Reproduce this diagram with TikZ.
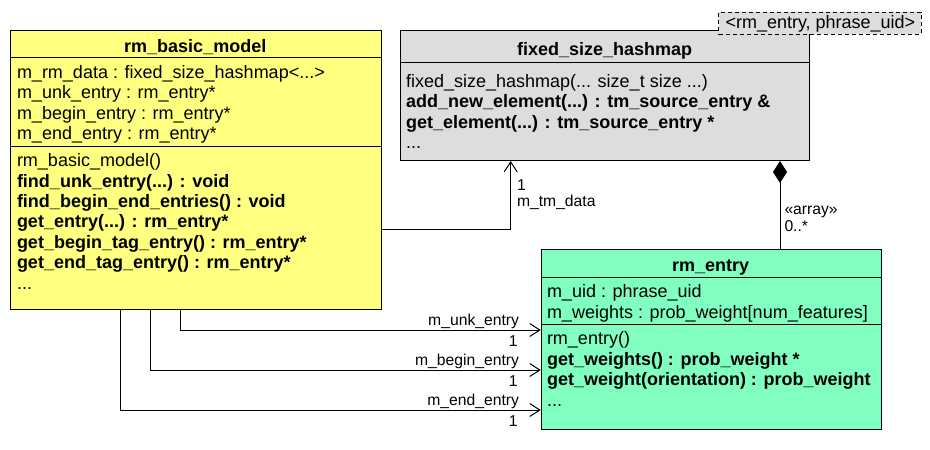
\documentclass[tikz,border=0pt]{standalone}
\usepackage{fontspec}
\setmainfont{Liberation Sans}
\usetikzlibrary{arrows.meta}
\definecolor{umlyellow}{HTML}{FFFF80}
\definecolor{umlgreen}{HTML}{80FFC0}
\definecolor{umlgray}{HTML}{DDDDDD}
\begin{document}
\begin{tikzpicture}[x=1pt,y=-1pt,line width=1pt,
  box/.style={draw=black, line width=1pt, anchor=north west, inner sep=0pt},
  t/.style={anchor=base west, inner sep=0pt, font=\fontsize{18}{21}\selectfont},
  tb/.style={anchor=base west, inner sep=0pt, font=\fontsize{18}{21}\selectfont\bfseries},
  hd/.style={anchor=base, inner sep=0pt, font=\fontsize{18}{21}\selectfont\bfseries},
  lbl/.style={inner sep=0pt, font=\fontsize{15.7}{18}\selectfont},
  assoc/.style={draw, -{Straight Barb[length=10pt,width=13pt]}},
  comp/.style={draw, {Diamond[length=22pt,width=14pt]}-},
]
\useasboundingbox (0,0) rectangle (930,450);

% ---------- rm_basic_model ----------
\node[box, fill=umlyellow, minimum width=370.5pt, minimum height=279.2pt] (basic) at (10,29.5) {};
\draw ([yshift=-27.8pt]basic.north west) -- ([yshift=-27.8pt]basic.north east);
\draw ([yshift=-117.2pt]basic.north west) -- ([yshift=-117.2pt]basic.north east);
\node[hd] (bh) at (195.25,52.3) {rm\_basic\_model};
\node[t] (ba1) at (16.5,78.3) {m\_rm\_data : fixed\_size\_hashmap<...>};
\node[t] (ba2) at (16.5,98.8) {m\_unk\_entry : rm\_entry*};
\node[t] (ba3) at (16.5,119.3) {m\_begin\_entry : rm\_entry*};
\node[t] (ba4) at (16.5,139.8) {m\_end\_entry : rm\_entry*};
\node[t]  (bm1) at (16.5,166.7) {rm\_basic\_model()};
\node[tb] (bm2) at (16.5,187.1) {find\_unk\_entry(...) : void};
\node[tb] (bm3) at (16.5,207.5) {find\_begin\_end\_entries() : void};
\node[tb] (bm4) at (16.5,227.9) {get\_entry(...) : rm\_entry*};
\node[tb] (bm5) at (16.5,248.3) {get\_begin\_tag\_entry() : rm\_entry*};
\node[tb] (bm6) at (16.5,268.7) {get\_end\_tag\_entry() : rm\_entry*};
\node[t]  (bm7) at (16.5,289.1) {...};

% ---------- fixed_size_hashmap ----------
\node[box, fill=umlgray, minimum width=409.3pt, minimum height=130pt] (hash) at (400,30) {};
\draw ([yshift=-32.3pt]hash.north west) -- ([yshift=-32.3pt]hash.north east);
\node[hd] (hh) at (604.7,55.7) {fixed\_size\_hashmap};
\node[t]  (hm1) at (405.5,87.7) {fixed\_size\_hashmap(... size\_t size ...)};
\node[tb] (hm2) at (405.5,107.9) {add\_new\_element(...) : tm\_source\_entry \&};
\node[tb] (hm3) at (405.5,128.1) {get\_element(...) : tm\_source\_entry *};
\node[t]  (hm4) at (405.5,148.3) {...};

% template parameter box
\node[box, fill=umlgray, dash pattern=on 4pt off 3pt, minimum width=202.4pt, minimum height=21.8pt] (tpl) at (718.3,11.7) {};
\node[t] (tpt) at (725,28.3) {<rm\_entry, phrase\_uid>};

% ---------- rm_entry ----------
\node[box, fill=umlgreen, minimum width=340pt, minimum height=180pt] (entry) at (540.7,249.3) {};
\draw ([yshift=-28pt]entry.north west) -- ([yshift=-28pt]entry.north east);
\draw ([yshift=-75pt]entry.north west) -- ([yshift=-75pt]entry.north east);
\node[hd] (eh) at (710.7,271.7) {rm\_entry};
\node[t]  (ea1) at (546.5,297.3) {m\_uid : phrase\_uid};
\node[t]  (ea2) at (546.5,318.3) {m\_weights : prob\_weight[num\_features]};
\node[t]  (em1) at (546.5,344.3) {rm\_entry()};
\node[tb] (em2) at (546.5,365) {get\_weights() : prob\_weight *};
\node[tb] (em3) at (546.5,385.7) {get\_weight(orientation) : prob\_weight};
\node[t]  (em4) at (546.5,406.2) {...};

% ---------- connectors ----------
\coordinate (tmx) at (510.7,0);
\coordinate (tmy) at (0,229.3);
\draw[assoc] (basic.east |- tmy) -| (hash.south -| tmx);
\node[lbl, anchor=base west] (l1) at (516.5,190) {1};
\node[lbl, anchor=base west] (l2) at (516.5,206.7) {m\_tm\_data};

\coordinate (dx) at (780,0);
\draw[comp] (hash.south -| dx) -- (entry.north -| dx);
\node[lbl, anchor=base west] (l3) at (784,214.3) {«array»};
\node[lbl, anchor=base west] (l4) at (784,231.7) {0..*};

\coordinate (u1) at (180.7,330);
\coordinate (u2) at (150.7,370);
\coordinate (u3) at (120.7,410);
\draw[assoc] (basic.south -| u1) |- (entry.west |- u1);
\draw[assoc] (basic.south -| u2) |- (entry.west |- u2);
\draw[assoc] (basic.south -| u3) |- (entry.west |- u3);
\node[lbl, anchor=base east] (n1) at (519.5,325) {m\_unk\_entry};
\node[lbl, anchor=base east] (n1m) at (518,346) {1};
\node[lbl, anchor=base east] (n2) at (519.5,365) {m\_begin\_entry};
\node[lbl, anchor=base east] (n2m) at (518,386) {1};
\node[lbl, anchor=base east] (n3) at (519.5,405) {m\_end\_entry};
\node[lbl, anchor=base east] (n3m) at (518,426) {1};
\end{tikzpicture}
\end{document}
